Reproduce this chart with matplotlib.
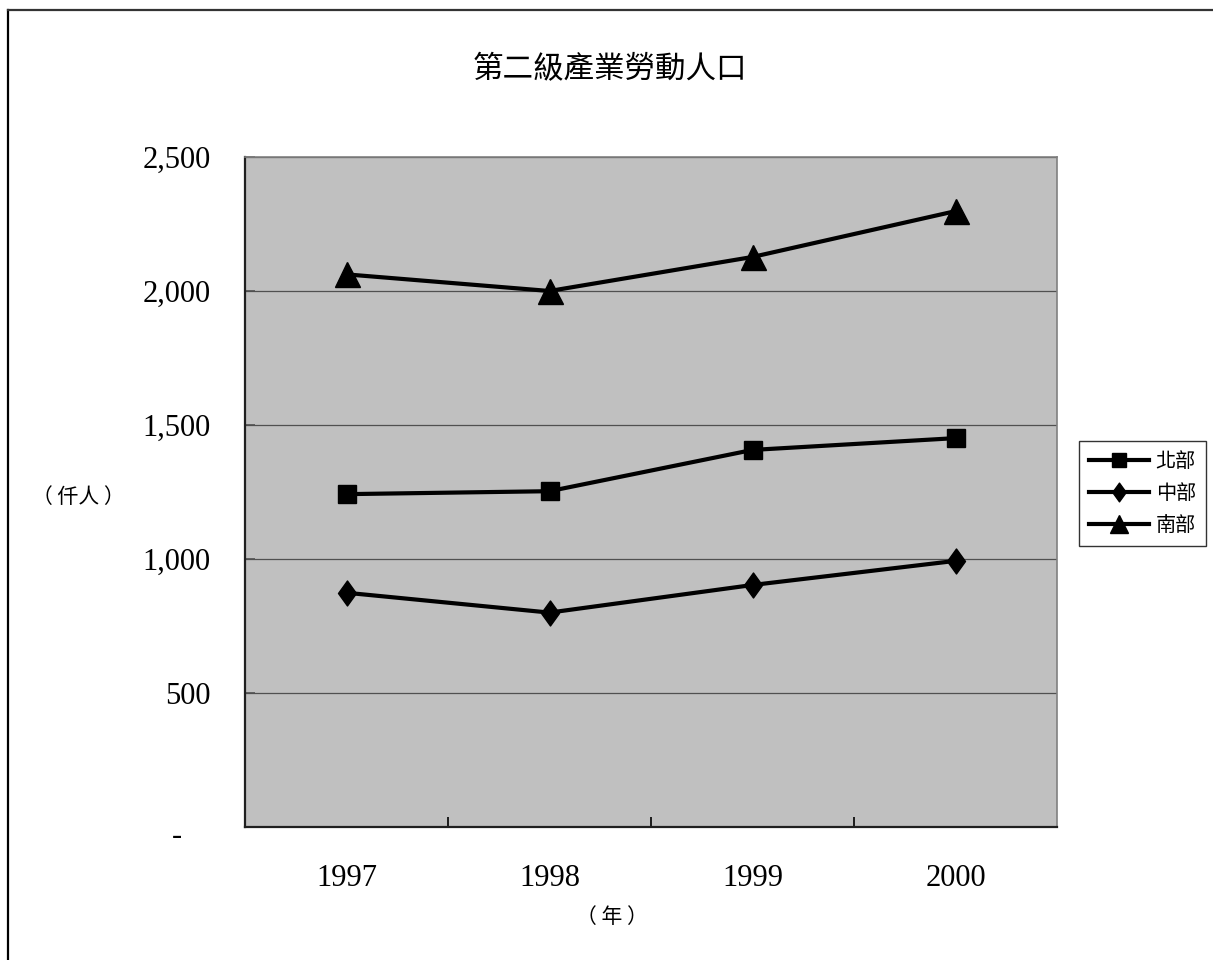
import matplotlib
matplotlib.use("Agg")
import matplotlib.pyplot as plt
from matplotlib.lines import Line2D
from matplotlib.path import Path
from matplotlib.transforms import ScaledTranslation

# Secondary-industry labour force by region (thousand persons)
years = ["1997", "1998", "1999", "2000"]
north = [1242, 1253, 1407, 1451]
central = [874, 800, 903, 993]
south = [2062, 2000, 2127, 2298]
series_names = ["北部", "中部", "南部"]
y_ticks = [0, 500, 1000, 1500, 2000, 2500]
y_tick_labels = ["-", "500", "1,000", "1,500", "2,000", "2,500"]

W, H = 1213, 960
DPI = 100
CJK = ["Noto Sans CJK TC", "DejaVu Sans"]
SERIF = "Liberation Serif"

fig = plt.figure(figsize=(W / DPI, H / DPI), dpi=DPI)
fig.patch.set_facecolor("white")

# outer frame (left and top edges visible)
fig.add_artist(Line2D([8 / W, 8 / W], [0, 1 - 10 / H], transform=fig.transFigure,
                      color="black", lw=1.6))
fig.add_artist(Line2D([8 / W, 1], [1 - 10 / H, 1 - 10 / H], transform=fig.transFigure,
                      color="#333333", lw=1.6))

left, right, top, bottom = 245, 1057, 157, 827
ax = fig.add_axes([left / W, 1 - bottom / H, (right - left) / W, (bottom - top) / H])
ax.set_facecolor("#C0C0C0")

x = list(range(len(years)))

# narrow diamond marker
diamond = Path([(0, 1), (0.72, 0), (0, -1), (-0.72, 0), (0, 1)],
               [Path.MOVETO, Path.LINETO, Path.LINETO, Path.LINETO, Path.CLOSEPOLY])

lw = 3.0
ax.plot(x, north, color="black", lw=lw, marker="s", markersize=12.5,
        label=series_names[0], zorder=3)
ax.plot(x, central, color="black", lw=lw, marker=diamond, markersize=18,
        label=series_names[1], zorder=3)
ax.plot(x, south, color="black", lw=lw, marker="^", markersize=18,
        label=series_names[2], zorder=3)

ax.set_xlim(-0.5, len(years) - 0.5)
ax.set_ylim(0, 2500)

# gridlines
ax.set_yticks(y_ticks)
ax.set_yticklabels(y_tick_labels, fontfamily=SERIF, fontsize=22)
ax.yaxis.grid(True, color="#505050", lw=0.9)
ax.set_axisbelow(True)
ax.tick_params(axis="y", direction="in", length=7, width=1.2, color="#505050",
               pad=24.5, left=True)
# shift the zero label leftwards
zero_lbl = ax.get_yticklabels()[0]
zero_lbl.set_transform(zero_lbl.get_transform() +
                       ScaledTranslation(-29 / DPI, -6 / DPI, fig.dpi_scale_trans))

# category boundaries as major ticks, category labels on minor ticks
ax.set_xticks([0.5, 1.5, 2.5])
ax.set_xticklabels([])
ax.tick_params(axis="x", which="major", direction="in", length=7, width=1.2,
               color="black")
ax.set_xticks(x, minor=True)
ax.set_xticklabels(years, minor=True, fontfamily=SERIF, fontsize=22)
ax.tick_params(axis="x", which="minor", length=0, pad=27)

for side in ("top", "right"):
    ax.spines[side].set_color("#808080")
    ax.spines[side].set_linewidth(1.2)
for side in ("left", "bottom"):
    ax.spines[side].set_color("#202020")
    ax.spines[side].set_linewidth(1.6)

# title and axis captions
fig.text(610 / W, 1 - 70 / H, "第二級產業勞動人口", ha="center", va="center",
         fontsize=22, family=CJK)
fig.text(78 / W, 1 - 497 / H, "（ 仟人 ）", ha="center", va="center",
         fontsize=15, family=CJK)
fig.text(612 / W, 1 - 917 / H, "（ 年 ）", ha="center", va="center",
         fontsize=15, family=CJK)

leg = fig.legend(loc="upper left", bbox_to_anchor=(1079 / W, 1 - 441 / H),
                 bbox_transform=fig.transFigure, frameon=True, fancybox=False,
                 edgecolor="black", prop={"family": CJK, "size": 14.5},
                 handlelength=3.0, handletextpad=0.3, labelspacing=0.55,
                 borderpad=0.5, markerscale=0.75, borderaxespad=0)
leg.get_frame().set_linewidth(1.0)

fig.savefig("out.png", dpi=DPI)
